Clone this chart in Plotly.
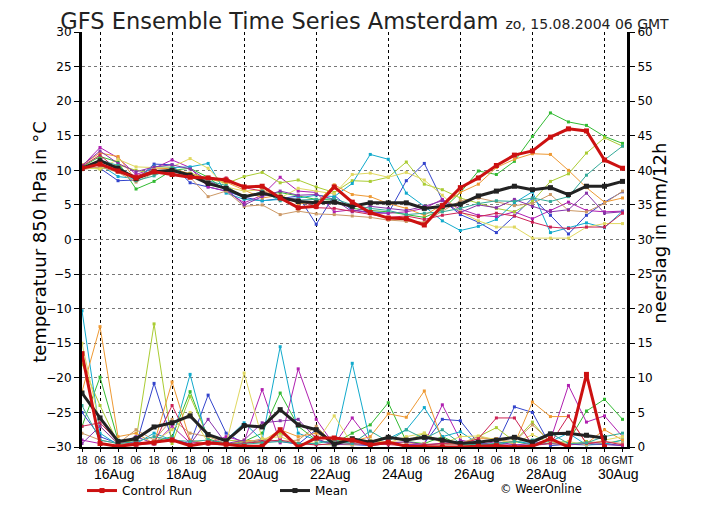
import pandas as pd
import plotly.graph_objects as go

# time axis: 12-hourly steps, 15Aug 18 GMT .. 30Aug 18 GMT
times = pd.date_range("2004-08-15 18:00", periods=31, freq="12h")
tick_labels = ["18", "06"] * 15 + ["GMT"]
date_labels = ["16Aug", "18Aug", "20Aug", "22Aug", "24Aug", "26Aug", "28Aug", "30Aug"]
grid_days = pd.date_range("2004-08-16 06:00", periods=8, freq="48h")

# temperature 850 hPa (degC)
t_control = [10.3, 10.9, 9.9, 8.9, 9.8, 9.4, 9.0, 8.9, 8.6, 7.6, 7.7, 6.0, 4.6, 4.8, 7.6, 5.4,
             3.9, 3.1, 3.0, 2.1, 4.9, 7.5, 8.9, 10.7, 12.2, 12.8, 14.8, 16.0, 15.7, 11.5, 10.3]
t_mean = [10.3, 11.4, 10.3, 8.8, 9.8, 10.0, 9.3, 8.1, 7.4, 6.2, 6.7, 6.1, 5.5, 5.3, 5.4, 4.8,
          5.3, 5.3, 5.3, 4.5, 4.8, 5.1, 6.3, 7.0, 7.7, 7.2, 7.5, 6.5, 7.7, 7.7, 8.4]
t_green = [10.5, 12.0, 11.2, 7.3, 8.4, 10.0, 10.3, 9.0, 7.0, 6.3, 6.5, 6.8, 6.3, 5.8, 5.7, 4.5,
           4.2, 4.0, 3.6, 3.2, 4.3, 6.8, 9.9, 9.4, 11.3, 14.9, 18.3, 17.0, 16.5, 14.9, 13.9]
t_blue = [10.4, 10.3, 8.5, 8.6, 10.9, 10.8, 8.2, 7.6, 7.0, 6.1, 5.6, 5.9, 6.3, 2.2, 6.4, 4.2,
          4.0, 3.8, 8.5, 11.0, 5.7, 3.6, 2.5, 1.0, 3.4, 6.0, 3.5, 0.8, 3.5, 5.4, 6.9]
t_magenta = [10.6, 13.3, 11.8, 9.4, 10.3, 11.5, 10.4, 7.6, 7.0, 5.3, 6.4, 9.0, 7.0, 6.8, 4.0, 4.3,
             3.8, 3.8, 4.0, 4.5, 5.8, 4.4, 3.5, 3.3, 4.0, 3.0, 4.2, 5.4, 4.2, 4.0, 4.1]
t_ygreen = [10.4, 10.2, 10.8, 10.0, 9.5, 9.8, 9.6, 8.9, 8.1, 9.1, 9.7, 8.2, 8.6, 7.6, 6.8, 8.5,
            8.4, 9.0, 11.2, 8.0, 7.2, 6.0, 5.3, 4.5, 4.0, 5.5, 8.4, 9.5, 12.5, 14.7, 13.5]
t_cyan = [10.5, 10.8, 9.1, 8.8, 10.6, 10.4, 10.5, 11.0, 6.7, 5.8, 5.6, 5.8, 6.0, 6.4, 6.2, 8.1,
          12.3, 11.6, 6.7, 4.8, 2.7, 1.3, 1.9, 2.9, 5.3, 6.9, 1.0, 1.7, 2.4, 1.7, 4.1]
t_orange = [10.8, 12.5, 12.0, 8.6, 10.2, 10.3, 9.5, 8.8, 8.3, 7.2, 6.0, 6.4, 5.2, 5.3, 7.9, 6.5,
            6.2, 5.2, 4.5, 3.5, 5.0, 6.8, 8.0, 10.4, 11.6, 12.4, 12.3, 10.0, 7.5, 5.4, 6.0]
t_tan = [10.1, 10.5, 9.7, 8.3, 9.6, 9.9, 9.0, 6.2, 7.0, 4.8, 5.0, 3.6, 4.1, 3.7, 3.6, 3.4,
         3.2, 2.8, 2.6, 2.5, 4.1, 5.6, 6.0, 5.5, 4.9, 5.2, 6.5, 4.2, 4.0, 5.2, 7.0]
t_yellow = [10.4, 10.2, 11.6, 10.5, 10.4, 10.5, 11.7, 10.3, 7.6, 7.0, 7.2, 6.0, 7.4, 7.0, 6.6, 9.4,
            9.6, 9.0, 9.7, 8.6, 6.4, 4.0, 2.7, 1.8, 1.8, 0.2, 0.2, 0.2, 1.8, 2.3, 2.3]
t_purple = [10.7, 12.8, 11.0, 9.8, 10.5, 10.8, 10.2, 8.5, 7.3, 5.0, 6.2, 7.0, 6.4, 6.5, 5.8, 4.0,
            4.8, 4.5, 4.2, 4.8, 5.6, 3.9, 5.0, 4.6, 5.8, 4.8, 4.0, 4.3, 6.7, 3.8, 4.0]
t_crimson = [10.6, 12.2, 10.0, 9.2, 10.0, 9.6, 9.0, 8.6, 8.9, 7.5, 7.0, 6.0, 5.8, 4.6, 4.5, 4.1,
             3.7, 3.2, 3.4, 2.9, 3.5, 3.9, 3.3, 3.8, 3.4, 2.5, 1.8, 1.6, 1.8, 1.8, 3.8]
t_teal = [10.2, 11.5, 10.7, 8.5, 9.2, 10.4, 9.2, 8.5, 7.8, 6.0, 7.0, 5.6, 5.7, 5.8, 5.9, 5.0,
          4.5, 4.2, 3.6, 3.8, 4.0, 4.5, 5.2, 5.6, 5.5, 6.0, 5.5, 6.2, 9.3, 11.5, 13.5]

# precipitation (mm/12h)
p_control = [13.5, 0.5, 0.1, 0.4, 0.6, 1.0, 0.2, 0.6, 0.4, 0.1, 0.1, 2.5, 0.0, 1.3, 1.3,
             1.0, 0.3, 0.7, 0.1, 0.0, 0.0, 0.0, 0.1, 0.2, 0.0, 0.1, 1.2, 0.0, 10.5, 0.0]
p_mean = [7.8, 4.2, 0.8, 1.2, 2.9, 3.5, 4.5, 1.8, 0.9, 3.1, 2.9, 5.4, 3.2, 2.5, 0.4,
          1.2, 0.7, 1.4, 1.0, 1.4, 1.0, 0.5, 0.7, 1.0, 1.4, 0.7, 1.9, 2.0, 1.7, 1.3]
p_green = [3.0, 10.1, 1.0, 0.5, 0.8, 1.5, 8.0, 1.2, 0.3, 0.8, 2.0, 7.8, 3.0, 1.0, 0.5, 2.0,
           3.2, 6.4, 0.8, 0.5, 1.5, 0.3, 0.2, 0.5, 0.8, 0.3, 0.5, 0.8, 5.2, 6.9, 4.0]
p_blue = [5.0, 1.5, 0.5, 0.3, 9.2, 1.0, 0.5, 7.5, 2.0, 0.5, 1.0, 0.8, 0.4, 2.5, 0.5, 0.3,
          0.2, 0.5, 0.3, 0.5, 4.0, 3.8, 0.5, 0.3, 5.8, 5.0, 0.2, 0.4, 0.3, 0.5, 0.2]
p_magenta = [1.0, 0.5, 0.2, 0.8, 0.4, 3.0, 0.6, 0.5, 1.5, 0.8, 8.3, 0.6, 11.3, 4.0, 0.3, 4.2,
             0.8, 0.5, 0.3, 0.5, 6.1, 1.0, 0.5, 0.3, 0.3, 0.5, 1.0, 8.9, 3.6, 4.5, 1.5]
p_ygreen = [12.0, 6.0, 0.5, 1.0, 17.8, 0.5, 7.3, 1.5, 1.0, 0.8, 0.6, 2.0, 0.5, 0.4, 0.3, 0.5,
            0.8, 1.5, 0.8, 2.0, 0.6, 0.4, 1.5, 2.8, 0.8, 3.6, 0.5, 0.3, 0.8, 0.5, 1.0]
p_cyan = [19.7, 2.0, 0.3, 0.5, 2.0, 1.0, 10.5, 0.5, 1.0, 3.5, 1.0, 14.5, 2.0, 1.0, 0.3, 12.1,
          0.7, 1.2, 2.5, 5.7, 1.5, 2.2, 0.5, 0.3, 0.8, 0.5, 0.8, 2.0, 0.3, 0.4, 1.0]
p_orange = [8.0, 17.4, 1.5, 2.0, 0.5, 9.4, 1.0, 0.5, 0.3, 1.0, 0.8, 2.5, 1.5, 2.0, 1.0, 0.8,
            1.5, 4.8, 4.3, 8.1, 1.0, 0.5, 1.2, 1.2, 0.4, 6.5, 4.4, 4.4, 0.5, 2.5, 1.0]
p_tan = [2.0, 1.0, 0.5, 2.5, 1.0, 4.0, 2.0, 1.5, 0.5, 0.6, 1.2, 0.8, 1.0, 3.0, 0.4, 0.3,
         0.5, 0.8, 0.6, 0.5, 0.3, 0.5, 1.5, 1.0, 0.8, 3.2, 0.8, 0.4, 0.6, 0.8, 0.5]
p_yellow = [15.0, 3.0, 0.4, 0.5, 0.8, 2.5, 5.0, 0.6, 0.5, 10.7, 1.2, 1.5, 0.5, 0.6, 4.5, 0.4,
            1.0, 0.6, 1.5, 2.0, 0.5, 1.5, 1.6, 1.0, 0.5, 1.8, 0.5, 0.8, 0.3, 1.0, 1.5]
p_purple = [0.5, 3.0, 0.5, 1.5, 0.5, 1.2, 0.4, 4.0, 0.5, 1.0, 3.5, 3.8, 4.0, 1.2, 0.3, 0.5,
            0.3, 0.5, 0.8, 0.3, 0.5, 0.8, 0.3, 0.8, 0.3, 0.2, 0.5, 0.3, 0.5, 0.3, 0.2]
p_crimson = [3.0, 3.5, 0.8, 0.3, 0.5, 6.0, 0.8, 0.4, 0.3, 0.5, 0.8, 1.0, 0.5, 0.3, 0.5, 0.8,
             0.5, 0.3, 0.2, 0.3, 0.5, 0.4, 1.2, 4.2, 4.2, 0.3, 0.5, 4.5, 0.5, 0.8, 0.3]
p_teal = [6.0, 1.0, 0.5, 0.8, 1.5, 1.0, 0.8, 1.0, 0.5, 0.4, 0.6, 0.8, 0.5, 0.5, 1.0, 0.5,
          2.3, 0.8, 2.5, 1.2, 2.5, 0.5, 0.3, 0.5, 0.8, 1.0, 2.0, 0.5, 0.6, 1.5, 2.0]

members = [
    ("#33bb33", t_green, p_green),
    ("#3344cc", t_blue, p_blue),
    ("#b020b0", t_magenta, p_magenta),
    ("#aacc33", t_ygreen, p_ygreen),
    ("#11aacc", t_cyan, p_cyan),
    ("#ee9933", t_orange, p_orange),
    ("#cc9966", t_tan, p_tan),
    ("#e0d860", t_yellow, p_yellow),
    ("#8833aa", t_purple, p_purple),
    ("#cc2255", t_crimson, p_crimson),
    ("#33aa99", t_teal, p_teal),
]

fig = go.Figure()

for color, t, p in members:
    fig.add_trace(go.Scatter(x=times, y=t, mode="lines+markers",
                             line=dict(color=color, width=1),
                             marker=dict(symbol="square", size=3, color=color),
                             showlegend=False, hoverinfo="skip"))
    fig.add_trace(go.Scatter(x=times[:len(p)], y=p, xaxis="x2", yaxis="y2",
                             mode="lines+markers",
                             line=dict(color=color, width=1),
                             marker=dict(symbol="square", size=3, color=color),
                             showlegend=False, hoverinfo="skip"))

# mean and control run, thick
for name, color, t, p, rank in [("Mean", "#222222", t_mean, p_mean, 2),
                                 ("Control Run", "#cc1111", t_control, p_control, 1)]:
    fig.add_trace(go.Scatter(x=times, y=t, mode="lines+markers", name=name,
                             legendrank=rank,
                             line=dict(color=color, width=3),
                             marker=dict(symbol="square", size=5, color=color)))
    fig.add_trace(go.Scatter(x=times[:len(p)], y=p, xaxis="x2", yaxis="y2",
                             mode="lines+markers", showlegend=False,
                             line=dict(color=color, width=3),
                             marker=dict(symbol="square", size=5, color=color)))

x_range = [times[0], pd.Timestamp("2004-08-30 21:00")]

annotations = [
    dict(x=d + pd.Timedelta(hours=9), y=-0.0655, xref="x", yref="paper",
         text=lbl, showarrow=False, yanchor="middle",
         font=dict(size=14, family="Liberation Sans"))
    for d, lbl in zip(grid_days, date_labels)
]
annotations += [
    dict(x=0.922, y=-0.1024, xref="paper", yref="paper", text="© WeerOnline",
         showarrow=False, font=dict(size=11.5), yanchor="middle"),
    dict(x=-0.0785, y=0.495, xref="paper", yref="paper", textangle=-90,
         text="temperatuur 850 hPa in °C", showarrow=False,
         font=dict(size=18), xanchor="center", yanchor="middle"),
    dict(x=1.0606, y=0.514, xref="paper", yref="paper", textangle=-90,
         text="neerslag in mm/12h", showarrow=False,
         font=dict(size=18), xanchor="center", yanchor="middle"),
]

# page body has an 8px margin, so the figure is sized/offset to compensate
fig.update_layout(
    width=697, height=509,
    margin=dict(l=74, r=78, t=24, b=65),
    paper_bgcolor="white", plot_bgcolor="white",
    font=dict(family="DejaVu Sans", color="black", size=12),
    title=dict(text="GFS Ensemble Time Series Amsterdam "
                    "<span style='font-size:14px'>zo, 15.08.2004 06 GMT</span>",
               x=0.5115, xanchor="center", y=0.9745, yanchor="middle",
               xref="container", yref="container",
               font=dict(size=22.5, color="#222222")),
    xaxis=dict(type="date", range=x_range, tickmode="array", automargin=False,
               tickvals=times, ticktext=tick_labels, tickangle=0,
               ticks="outside", ticklen=3, tickcolor="black",
               tickfont=dict(size=10, family="Liberation Sans"),
               showgrid=False, zeroline=False,
               showline=True, linecolor="black", linewidth=2),
    xaxis2=dict(type="date", range=x_range, overlaying="x", automargin=False,
                tickmode="array", tickvals=grid_days,
                showticklabels=False, ticks="",
                showgrid=True, gridcolor="black", griddash="dot", gridwidth=1,
                zeroline=False, showline=False),
    yaxis=dict(range=[-30, 30], tick0=-30, dtick=5, automargin=False,
               ticks="outside", ticklen=5, tickcolor="black",
               tickfont=dict(size=12),
               showgrid=True, gridcolor="#777777", griddash="dot", gridwidth=1,
               zeroline=False, showline=True, linecolor="black", linewidth=3),
    yaxis2=dict(range=[0, 60], tick0=0, dtick=5, overlaying="y", side="right",
                anchor="x", automargin=False,
                ticks="outside", ticklen=5, tickcolor="black",
                tickfont=dict(size=12),
                showgrid=False, zeroline=False,
                showline=True, linecolor="black", linewidth=3),
    legend=dict(orientation="h", x=0, xanchor="left", y=-0.07, yanchor="top",
                font=dict(size=12), bgcolor="rgba(0,0,0,0)",
                entrywidth=148, entrywidthmode="pixels"),
    annotations=annotations,
    showlegend=True,
)

fig.write_html("out.html")
